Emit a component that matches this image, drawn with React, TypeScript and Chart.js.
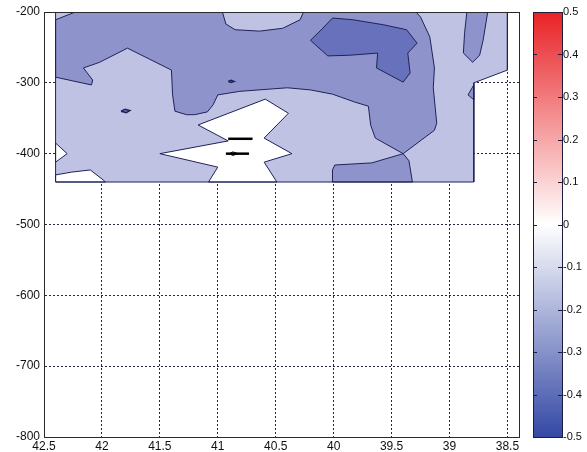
import React, { useEffect, useRef } from 'react';
import { Chart, registerables } from 'chart.js';

Chart.register(...registerables);

type P = [number, number]; // [latitude, depth]

// ---- axis ticks ----
const xTicks = [42.5, 42, 41.5, 41, 40.5, 40, 39.5, 39, 38.5];
const yTicks = [-200, -300, -400, -500, -600, -700, -800];
const cbTicks = [0.5, 0.4, 0.3, 0.2, 0.1, 0, -0.1, -0.2, -0.3, -0.4, -0.5];

// ---- filled-contour regions (latitude, depth) ----
const domainLight: P[] = [[42.40, -200], [38.50, -200], [38.50, -282], [38.79, -300], [38.79, -440], [42.40, -440]];
const midUpper: P[] = [
  [42.23, -200], [39.29, -200], [39.25, -207], [39.17, -235], [39.13, -279], [39.14, -307], [39.11, -357],
  [39.13, -367], [39.40, -400], [39.64, -378], [39.68, -360], [39.70, -333], [39.82, -327], [40.01, -316],
  [40.20, -310], [40.40, -307], [40.81, -312], [41.00, -317], [41.04, -331], [41.09, -341], [41.20, -345],
  [41.27, -345], [41.37, -340], [41.39, -317], [41.40, -282], [41.78, -251], [42.02, -271], [42.16, -279],
  [42.08, -296], [42.09, -303], [42.40, -292], [42.40, -211],
];
const lightTopBump: P[] = [[40.96, -200], [40.93, -217], [40.85, -225], [40.64, -227], [40.44, -223], [40.29, -211], [40.26, -200]];
const midLower: P[] = [[39.40, -400], [39.35, -410], [39.32, -440], [40.01, -440], [40.01, -423], [39.99, -416], [39.67, -413]];
const midRightStrip: P[] = [[38.85, -200], [38.67, -200], [38.71, -240], [38.74, -261], [38.80, -271], [38.88, -258], [38.87, -230]];
const midRightNotch: P[] = [[38.79, -303], [38.84, -317], [38.79, -324]];
const midBlobWest: P[] = [[41.835, -340], [41.80, -337.5], [41.76, -339], [41.79, -342]];
const midDot: P[] = [[40.91, -298], [40.885, -296.5], [40.86, -298], [40.885, -299.5]];
const darkCore: P[] = [
  [40.20, -240], [40.10, -224], [40.01, -208.5], [39.83, -211], [39.57, -218], [39.37, -225], [39.28, -244],
  [39.36, -258], [39.34, -286], [39.40, -299], [39.63, -279], [39.62, -258], [39.86, -261], [40.05, -262],
];
const whiteWestTip: P[] = [[42.40, -385], [42.30, -400], [42.40, -412]];
const whiteSouthWest: P[] = [[42.40, -430], [42.26, -426], [42.10, -423], [41.99, -437], [41.97, -440], [42.40, -440]];
const whiteCentre: P[] = [
  [41.50, -400], [40.91, -382], [41.17, -359.5], [40.59, -323], [40.39, -343], [40.60, -378], [40.36, -400],
  [40.60, -412], [40.49, -440], [41.08, -440], [41.00, -419],
];
const thinLineUpper: P[] = [[40.91, -379], [40.70, -379]];
const thinLineLower: P[] = [[40.93, -400], [40.73, -400]];
const pinkEye: P[] = [[40.90, -400], [40.87, -397.5], [40.825, -400], [40.87, -402.5]];

// ---- styles ----
const C_LIGHT = 'rgb(192,194,228)';
const C_MID = 'rgb(142,147,203)';
const C_DARK = 'rgb(104,113,188)';
const C_WHITE = '#ffffff';
const C_PINK = 'rgb(236,170,178)';
const LINE = '#1f2258';
const FONT = 'Liberation Sans, Arial, Helvetica, sans-serif';

const contourFill = {
  id: 'contourFill',
  beforeDatasetsDraw(chart: any) {
    const { ctx, chartArea: a } = chart;
    ctx.save();
    ctx.beginPath();
    ctx.rect(a.left, a.top, a.right - a.left, a.bottom - a.top);
    ctx.clip();
    chart.data.datasets.forEach((ds: any, i: number) => {
      if (!ds.regionFill) return;
      const pts = chart.getDatasetMeta(i).data;
      ctx.beginPath();
      pts.forEach((p: any, j: number) => (j ? ctx.lineTo(p.x, p.y) : ctx.moveTo(p.x, p.y)));
      ctx.closePath();
      ctx.fillStyle = ds.regionFill;
      ctx.fill();
    });
    ctx.restore();
  },
};

const frameAndColorbar = {
  id: 'frameAndColorbar',
  afterDraw(chart: any) {
    const { ctx, chartArea: a } = chart;
    ctx.save();
    ctx.strokeStyle = '#2a2a2a';
    ctx.lineWidth = 1;
    ctx.strokeRect(Math.round(a.left) + 0.5, Math.round(a.top) + 0.5, Math.round(a.right - a.left), Math.round(a.bottom - a.top));

    const cb = chart.scales.cb;
    const x0 = Math.round(cb.left) + 14;
    const x1 = Math.round(cb.left) + 43;
    const yT = cb.getPixelForValue(0.5);
    const yB = cb.getPixelForValue(-0.5);
    const g = ctx.createLinearGradient(0, yB, 0, yT);
    g.addColorStop(0, 'rgb(52,72,165)');
    g.addColorStop(0.5, 'rgb(255,255,255)');
    g.addColorStop(1, 'rgb(232,34,38)');
    ctx.fillStyle = g;
    ctx.fillRect(x0, yT, x1 - x0, yB - yT);
    ctx.strokeStyle = '#1c1c3c';
    ctx.strokeRect(x0 + 0.5, Math.round(yT) + 0.5, x1 - x0, Math.round(yB - yT));
    ctx.beginPath();
    cbTicks.forEach((v) => {
      const y = Math.round(cb.getPixelForValue(v)) + 0.5;
      ctx.moveTo(x0, y);
      ctx.lineTo(x0 + 4, y);
      ctx.moveTo(x1 - 4, y);
      ctx.lineTo(x1, y);
    });
    ctx.stroke();
    ctx.restore();
  },
};

export default function App() {
  const ref = useRef<HTMLCanvasElement>(null);

  useEffect(() => {
    const canvas = ref.current;
    if (!canvas) return;

    const regions = [
      { pts: domainLight, fill: C_LIGHT, closed: true, width: 1, color: LINE },
      { pts: midUpper, fill: C_MID, closed: true, width: 1, color: LINE },
      { pts: lightTopBump, fill: C_LIGHT, closed: true, width: 1, color: LINE },
      { pts: midLower, fill: C_MID, closed: true, width: 1, color: LINE },
      { pts: midRightStrip, fill: C_MID, closed: true, width: 1, color: LINE },
      { pts: midRightNotch, fill: C_MID, closed: true, width: 1, color: LINE },
      { pts: midBlobWest, fill: C_MID, closed: true, width: 1.5, color: LINE },
      { pts: midDot, fill: C_MID, closed: true, width: 1.5, color: LINE },
      { pts: darkCore, fill: C_DARK, closed: true, width: 1, color: LINE },
      { pts: whiteWestTip, fill: C_WHITE, closed: true, width: 1, color: LINE },
      { pts: whiteSouthWest, fill: C_WHITE, closed: true, width: 1, color: LINE },
      { pts: whiteCentre, fill: C_WHITE, closed: true, width: 1, color: LINE },
      { pts: thinLineUpper, fill: null, closed: false, width: 2.5, color: '#000' },
      { pts: thinLineLower, fill: null, closed: false, width: 2.5, color: '#000' },
      { pts: pinkEye, fill: C_PINK, closed: true, width: 1, color: '#000' },
    ];

    const datasets = regions.map((r) => {
      const ring = r.closed ? [...r.pts, r.pts[0]] : r.pts;
      return {
        data: ring.map(([x, y]) => ({ x, y })),
        regionFill: r.fill,
        showLine: true,
        fill: false,
        tension: 0,
        borderColor: r.color,
        borderWidth: r.width,
        pointRadius: 0,
        pointHoverRadius: 0,
        xAxisID: 'x',
        yAxisID: 'y',
      };
    });

    const tickFont = { family: FONT, size: 12 };
    const gridCommon = { color: 'rgba(25,25,55,0.95)', lineWidth: 1, drawTicks: false };
    const borderCommon = { display: true, color: '#2a2a2a', width: 1, dash: [2, 2] };

    const chart = new Chart(canvas, {
      type: 'scatter',
      data: { datasets: datasets as any },
      options: {
        animation: false,
        responsive: false,
        events: [],
        layout: { padding: { top: 12, left: 0, right: 0, bottom: 0 } },
        plugins: { legend: { display: false }, tooltip: { enabled: false } },
        scales: {
          x: {
            type: 'linear',
            reverse: true,
            min: 38.4,
            max: 42.5,
            z: 1,
            grid: gridCommon,
            border: borderCommon,
            afterBuildTicks: (s: any) => {
              s.ticks = [...xTicks].sort((a, b) => a - b).map((v) => ({ value: v }));
            },
            afterFit: (s: any) => {
              s.height = 15;
            },
            ticks: { color: '#111', font: tickFont, padding: 2, maxRotation: 0, autoSkip: false, callback: (v: any) => String(v) },
          },
          y: {
            type: 'linear',
            min: -800,
            max: -200,
            z: 1,
            grid: gridCommon,
            border: borderCommon,
            afterBuildTicks: (s: any) => {
              s.ticks = [...yTicks].sort((a, b) => a - b).map((v) => ({ value: v }));
            },
            afterFit: (s: any) => {
              s.width = 44;
            },
            ticks: { color: '#111', font: tickFont, padding: 4, autoSkip: false, callback: (v: any) => String(v) },
          },
          cb: {
            type: 'linear',
            position: 'right',
            min: -0.5,
            max: 0.5,
            grid: { display: false, drawTicks: true, tickLength: 42 },
            border: { display: false },
            afterBuildTicks: (s: any) => {
              s.ticks = [...cbTicks].sort((a, b) => a - b).map((v) => ({ value: v }));
            },
            afterFit: (s: any) => {
              s.width = 68;
            },
            ticks: { color: '#111', font: { family: FONT, size: 11 }, padding: 2, autoSkip: false, callback: (v: any) => String(v) },
          },
        },
      } as any,
      plugins: [contourFill, frameAndColorbar],
    });

    return () => chart.destroy();
  }, []);

  return (
    <div style={{ position: 'absolute', left: 0, top: 0, width: 587, height: 452, background: '#fff' }}>
      <canvas ref={ref} width={587} height={452} style={{ display: 'block' }} />
    </div>
  );
}
